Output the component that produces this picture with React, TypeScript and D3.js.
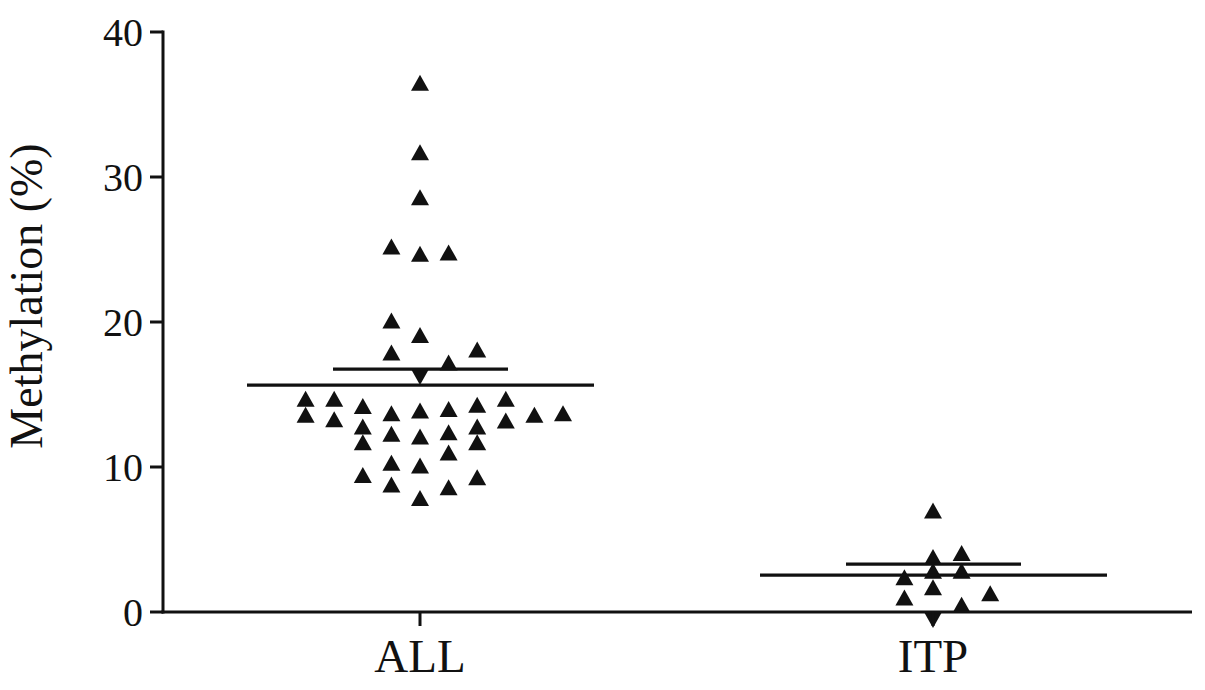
import React from "react";
import * as d3 from "d3";

const categories = ["ALL", "ITP"];
const yTicks = [0, 10, 20, 30, 40];

// ALL group: values and horizontal column index (scatter spreading)
const allValues = [36.5, 31.7, 28.6, 25.2, 24.7, 24.8, 20.1, 19.1, 17.9, 18.1, 17.2,
  14.7, 13.6, 14.7, 13.3, 14.2, 12.8, 11.7, 9.45, 13.7, 12.3, 10.3, 8.8,
  13.9, 12.1, 10.1, 7.86, 14.0, 12.4, 11.0, 8.6, 14.3, 12.8, 11.7, 9.3,
  14.7, 13.2, 13.6, 13.7];
const allCols = [0, 0, 0, -1, 0, 1, -1, 0, -1, 2, 1,
  -4, -4, -3, -3, -2, -2, -2, -2, -1, -1, -1, -1,
  0, 0, 0, 0, 1, 1, 1, 1, 2, 2, 2, 2,
  3, 3, 4, 5];
const allDownValues = [16.2];
const allDownCols = [0];

const itpValues = [7.0, 3.8, 4.07, 2.85, 2.85, 2.4, 1.7, 1.0, 1.3, 0.5];
const itpCols = [0, 0, 1, 0, 1, -1, 0, -1, 2, 1];
const itpDownValues = [-0.55];
const itpDownCols = [0];

const means = [15.65, 2.55];
const semUpper = [16.75, 3.3];

const W = 1205, H = 690;
const axisLeft = 163, axisRight = 1192;
const yTop = 32, yBottom = 612;

export default function App() {
  const y = d3.scaleLinear().domain([0, 40]).range([yBottom, yTop]);
  const x = d3.scalePoint<string>().domain(categories).range([420, 933]);
  const col = d3.scaleLinear().domain([0, 1]).range([0, 28.6]);

  const tri = (cx: number, cy: number, down = false) => {
    const hw = 9, hh = 8;
    if (!down) return `M${cx - hw},${cy + hh}L${cx + hw},${cy + hh}L${cx},${cy - hh}Z`;
    return `M${cx - hw},${cy - hh}L${cx + hw},${cy - hh}L${cx},${cy + hh}Z`;
  };

  const groups = [
    { cat: "ALL", up: allValues, upCols: allCols, down: allDownValues, downCols: allDownCols },
    { cat: "ITP", up: itpValues, upCols: itpCols, down: itpDownValues, downCols: itpDownCols },
  ];

  const font = "'Liberation Serif', 'Times New Roman', Times, serif";

  return (
    <svg width={W} height={H} style={{ position: "absolute", left: 0, top: 0, background: "#fff" }}>
      <rect width={W} height={H} fill="#fff" />
      {groups.map((g) => (
        <g key={g.cat} fill="#111">
          {g.up.map((v, i) => (
            <path key={"u" + i} d={tri(x(g.cat)! + col(g.upCols[i]), y(v))} />
          ))}
          {g.down.map((v, i) => (
            <path key={"d" + i} d={tri(x(g.cat)! + col(g.downCols[i]), y(v), true)} />
          ))}
        </g>
      ))}
      {categories.map((c, i) => (
        <g key={"m" + c} stroke="#111" strokeWidth={3.2}>
          <line x1={x(c)! - 173} x2={x(c)! + 174} y1={y(means[i])} y2={y(means[i])} />
          <line x1={x(c)! - 87} x2={x(c)! + 88} y1={y(semUpper[i])} y2={y(semUpper[i])} />
        </g>
      ))}
      <g stroke="#111" strokeWidth={3}>
        <line x1={axisLeft} x2={axisLeft} y1={yTop - 1.5} y2={yBottom + 1.5} />
        <line x1={axisLeft - 1.5} x2={axisRight} y1={yBottom} y2={yBottom} />
        {yTicks.map((t) => (
          <line key={t} x1={axisLeft - 13} x2={axisLeft} y1={y(t)} y2={y(t)} />
        ))}
        {categories.map((c) => (
          <line key={c} x1={x(c)} x2={x(c)} y1={yBottom} y2={yBottom + 14} />
        ))}
      </g>
      {yTicks.map((t) => (
        <text key={t} x={axisLeft - 20} y={y(t)} dy="0.35em" textAnchor="end"
          fontFamily={font} fontSize={40} fill="#111">{t}</text>
      ))}
      {categories.map((c) => (
        <text key={c} x={x(c)} y={yBottom + 60} textAnchor="middle"
          fontFamily={font} fontSize={47} fill="#111">{c}</text>
      ))}
      <text transform={`translate(${42},${296}) rotate(-90)`} textAnchor="middle"
        fontFamily={font} fontSize={46} fill="#111">Methylation (%)</text>
    </svg>
  );
}
